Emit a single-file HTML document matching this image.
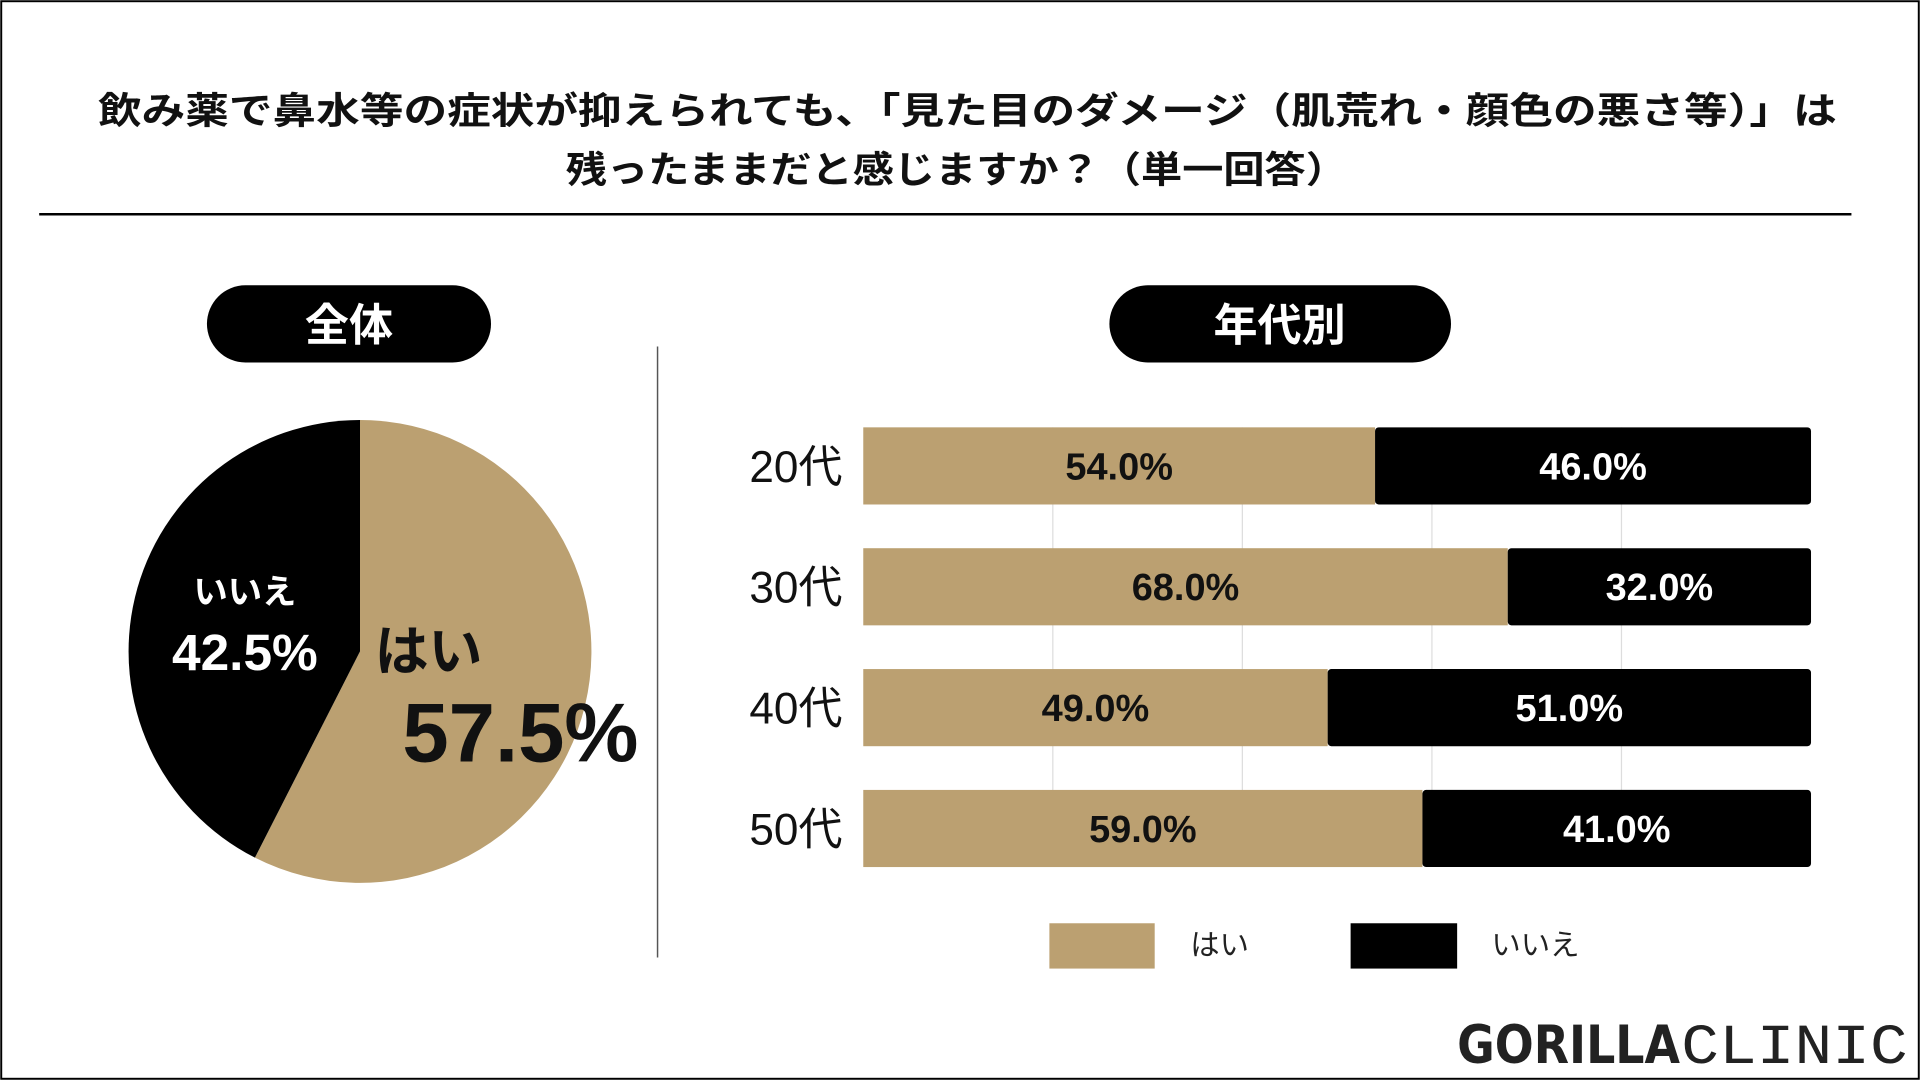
<!DOCTYPE html>
<html><head><meta charset="utf-8">
<style>
html,body{margin:0;padding:0;background:#fff;width:1920px;height:1080px;overflow:hidden}
svg{display:block}
text{font-family:"Liberation Sans","Noto Sans CJK JP",sans-serif}
</style></head>
<body>
<svg id="chart" width="1920" height="1080" viewBox="0 0 1568 882" xmlns="http://www.w3.org/2000/svg">
<rect x="1" y="1" width="1566" height="880" fill="#fff" stroke="#000" stroke-width="1.6"/>
<g font-weight="bold" font-size="30" fill="#111">
<text x="80" y="101" textLength="1420" lengthAdjust="spacingAndGlyphs">飲み薬で鼻水等の症状が抑えられても、「見た目のダメージ（肌荒れ・顔色の悪さ等）」は</text>
<text x="462" y="149" textLength="638" lengthAdjust="spacingAndGlyphs">残ったままだと感じますか？（単一回答）</text>
</g>
<line x1="32" y1="175" x2="1512" y2="175" stroke="#000" stroke-width="2"/>
<rect x="169" y="233" width="232" height="63" rx="31.5" fill="#000"/>
<text x="285" y="278" text-anchor="middle" fill="#fff" font-size="36" font-weight="bold">全体</text>
<rect x="906" y="233" width="279" height="63" rx="31.5" fill="#000"/>
<text x="1045" y="278" text-anchor="middle" fill="#fff" font-size="36" font-weight="bold">年代別</text>
<line x1="537" y1="283" x2="537" y2="782" stroke="#555" stroke-width="1.2"/>
<g id="pie"></g>
<g id="bars"></g>
<g>
<rect x="857" y="754" width="86" height="37" fill="#BBA071"/>
<text x="972" y="780" font-size="24" fill="#222">はい</text>
<rect x="1103" y="754" width="87" height="37" fill="#000"/>
<text x="1218" y="780" font-size="24" fill="#222">いいえ</text>
</g>
<g>
<text x="1190" y="868" style="font-family:'DejaVu Sans','Liberation Sans',sans-serif;font-weight:bold" font-size="43" fill="#222" textLength="182" lengthAdjust="spacingAndGlyphs">GORILLA</text>
<text x="1373" y="868" style="font-family:'Liberation Mono',monospace" font-size="46" fill="#222" textLength="185" lengthAdjust="spacingAndGlyphs">CLINIC</text>
</g>
</svg>
<script>
const pieLabels = ["はい", "いいえ"];
const pieValues = [57.5, 42.5];
const ageCategories = ["20代", "30代", "40代", "50代"];
const yesValues = [54.0, 68.0, 49.0, 59.0];
const noValues = [46.0, 32.0, 51.0, 41.0];
const gridTicks = [20, 40, 60, 80];

const NS = "http://www.w3.org/2000/svg";
const TAN = "#BBA071";
function mk(tag, attrs, parent){const e=document.createElementNS(NS,tag);for(const k in attrs)e.setAttribute(k,attrs[k]);parent.appendChild(e);return e;}

const pie = document.getElementById("pie");
const cx=294, cy=532, r=189;
const total = pieValues.reduce((a,b)=>a+b,0);
let start = 0;
pieValues.forEach((v,i)=>{
  const a0 = start/total*2*Math.PI, a1=(start+v)/total*2*Math.PI;
  const x0=cx+r*Math.sin(a0), y0=cy-r*Math.cos(a0), x1=cx+r*Math.sin(a1), y1=cy-r*Math.cos(a1);
  const large = (a1-a0)>Math.PI?1:0;
  const p = mk("path",{d:`M${cx},${cy} L${x0},${y0} A${r},${r} 0 ${large} 1 ${x1},${y1} Z`,fill:i===0?TAN:"#000"},pie);
  
  
  start += v;
});
let t;
t=mk("text",{x:200,y:493,"text-anchor":"middle","font-size":28,"font-weight":"bold",fill:"#fff"},pie);t.textContent=pieLabels[1];


t=mk("text",{x:200,y:547,"text-anchor":"middle","font-size":42,"font-weight":"bold",fill:"#fff"},pie);t.textContent=pieValues[1].toFixed(1)+"%";


t=mk("text",{x:306,y:547,"font-size":44,"font-weight":"bold",fill:"#111"},pie);t.textContent=pieLabels[0];


t=mk("text",{x:425,y:622,"text-anchor":"middle","font-size":68,"font-weight":"bold",fill:"#111"},pie);t.textContent=pieValues[0].toFixed(1)+"%";



const bars = document.getElementById("bars");
const X0=705, X1=1479;
const xs = v => X0 + (X1-X0)*v/100;
const rowTop = i => 349 + i*98.7;
const barH = 63;
gridTicks.forEach(g=>{
  const l=mk("line",{x1:xs(g),x2:xs(g),y1:349,y2:708,stroke:"#ddd","stroke-width":1},bars);
  
  
});
ageCategories.forEach((c,i)=>{
  const y=rowTop(i);
  const tot = yesValues[i]+noValues[i];
  const yEnd = xs(yesValues[i]/tot*100);
  let r1=mk("rect",{x:X0,y:y,width:yEnd-X0,height:barH,fill:TAN},bars);
  
  
  let r2=mk("rect",{x:yEnd,y:y,width:X1-yEnd,height:barH,fill:"#000",rx:3},bars);
  
  
  let lb=mk("text",{x:688,y:y+barH/2+13,"text-anchor":"end","font-size":36,fill:"#111"},bars);lb.textContent=c;
  
  
  let v1=mk("text",{x:(X0+yEnd)/2,y:y+barH/2+11,"text-anchor":"middle","font-size":31,"font-weight":"bold",fill:"#111"},bars);v1.textContent=yesValues[i].toFixed(1)+"%";
  
  
  let v2=mk("text",{x:(yEnd+X1)/2,y:y+barH/2+11,"text-anchor":"middle","font-size":31,"font-weight":"bold",fill:"#fff"},bars);v2.textContent=noValues[i].toFixed(1)+"%";
  
  
});
</script>
</body></html>
